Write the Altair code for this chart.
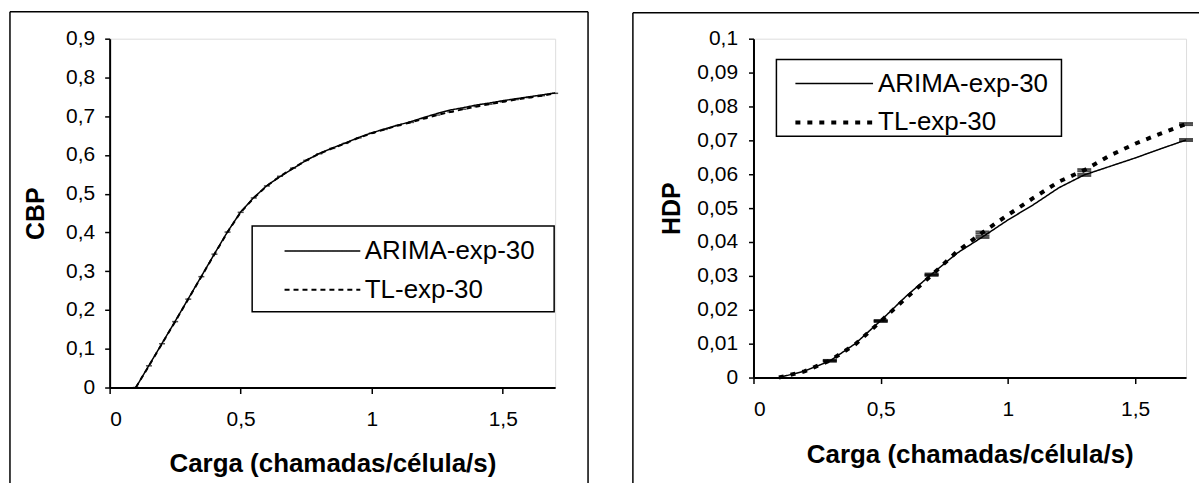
import altair as alt
import pandas as pd

FONT = "Liberation Sans"
SERIES = ["ARIMA-exp-30", "TL-exp-30"]

# ---- Left panel: CBP ----
cbp_load = [0.10, 0.15, 0.20, 0.25, 0.30, 0.35, 0.40, 0.45, 0.50, 0.55, 0.60,
            0.65, 0.70, 0.75, 0.80, 0.85, 0.90, 0.95, 1.00, 1.05, 1.10, 1.15,
            1.20, 1.25, 1.30, 1.35, 1.40, 1.45, 1.50, 1.55, 1.60, 1.65, 1.70]
cbp_arima = [0.000, 0.057, 0.114, 0.171, 0.229, 0.287, 0.345, 0.402, 0.453, 0.490, 0.521,
             0.544, 0.565, 0.586, 0.604, 0.618, 0.631, 0.645, 0.657, 0.667, 0.677, 0.686,
             0.697, 0.707, 0.716, 0.722, 0.729, 0.734, 0.740, 0.745, 0.750, 0.755, 0.760]
cbp_tl = [0.000, 0.056, 0.113, 0.170, 0.228, 0.286, 0.344, 0.401, 0.452, 0.489, 0.520,
          0.545, 0.566, 0.586, 0.603, 0.617, 0.630, 0.644, 0.656, 0.666, 0.676, 0.684,
          0.694, 0.703, 0.711, 0.718, 0.725, 0.731, 0.737, 0.743, 0.748, 0.753, 0.759]

# ---- Right panel: HDP ----
hdp_load = [0.1, 0.2, 0.3, 0.4, 0.5, 0.6, 0.7, 0.8, 0.9, 1.0, 1.1, 1.2, 1.3, 1.4, 1.5, 1.6, 1.7]
hdp_arima = [0.0000, 0.0019, 0.0049, 0.0100, 0.0168, 0.0240, 0.0305, 0.0367, 0.0415,
             0.0465, 0.0510, 0.0560, 0.0598, 0.0623, 0.0648, 0.0675, 0.0701]
hdp_tl = [0.0000, 0.0018, 0.0050, 0.0098, 0.0166, 0.0235, 0.0302, 0.0372, 0.0428,
          0.0480, 0.0530, 0.0578, 0.0612, 0.0655, 0.0690, 0.0720, 0.0748]

# error-bar caps (HDP)
err_load = [0.3, 0.5, 0.7, 0.9, 1.3, 1.7]
err_arima_ci = [0.0002, 0.0002, 0.0002, 0.0003, 0.0003, 0.0003]
err_tl_ci = [0.0002, 0.0002, 0.0002, 0.0003, 0.0003, 0.0003]

x_ticks = [0, 0.5, 1, 1.5]
cbp_ticks = [0, 0.1, 0.2, 0.3, 0.4, 0.5, 0.6, 0.7, 0.8, 0.9]
hdp_ticks = [0, 0.01, 0.02, 0.03, 0.04, 0.05, 0.06, 0.07, 0.08, 0.09, 0.1]

X_TITLE = "Carga (chamadas/célula/s)"
LABEL_EXPR = "replace(format(datum.value, '~g'), '.', ',')"


def long_df(load, a, t):
    return pd.DataFrame({
        "carga": list(load) + list(load),
        "valor": list(a) + list(t),
        "serie": [SERIES[0]] * len(a) + [SERIES[1]] * len(t),
    })


def caps_df(load, a, t):
    rows = []
    for name, vals, cis in ((SERIES[0], a, err_arima_ci), (SERIES[1], t, err_tl_ci)):
        for xv, ci in zip(err_load, cis):
            v = vals[load.index(xv)]
            rows.append({"carga": xv, "valor": v - ci, "serie": name})
            rows.append({"carga": xv, "valor": v + ci, "serie": name})
    return pd.DataFrame(rows)


cbp_df = long_df(cbp_load, cbp_arima, cbp_tl)
hdp_df = long_df(hdp_load, hdp_arima, hdp_tl)
hdp_caps = caps_df(hdp_load, hdp_arima, hdp_tl)
one = pd.DataFrame({"k": [0]})


def x_enc(title_y):
    return alt.X("carga:Q", scale=alt.Scale(domain=[0, 1.7], nice=False),
                 axis=alt.Axis(values=x_ticks, tickCount=len(x_ticks), title=X_TITLE,
                               labelExpr=LABEL_EXPR,
                               grid=False, domainColor="black", domainWidth=2,
                               tickColor="black", tickSize=6, tickWidth=1.5,
                               labelFont=FONT, labelFontSize=21, labelColor="black",
                               labelPadding=15, labelOverlap=False,
                               titleFont=FONT, titleFontSize=26,
                               titleFontWeight="bold", titleColor="black",
                               titleY=title_y, titleBaseline="alphabetic"))


def y_enc(domain, ticks, title, title_x, lpad):
    return alt.Y("valor:Q", scale=alt.Scale(domain=domain, nice=False),
                 axis=alt.Axis(values=ticks, tickCount=len(ticks), title=title,
                               labelExpr=LABEL_EXPR,
                               grid=False, domainColor="black", domainWidth=2,
                               tickColor="black", tickSize=5, tickWidth=1.5,
                               labelFont=FONT, labelFontSize=21, labelColor="black",
                               labelPadding=lpad, labelOverlap=False,
                               titleFont=FONT, titleFontSize=25,
                               titleFontWeight="bold", titleColor="black",
                               titleX=title_x, titleBaseline="alphabetic"))


def legend(lx, ly, off, loff, path, size, rowpad):
    return alt.Legend(title=None, orient="none", legendX=lx, legendY=ly, padding=4,
                      symbolType=path, symbolSize=size, symbolOffset=off,
                      labelOffset=loff, labelFont=FONT, labelFontSize=26,
                      labelColor="black", labelLimit=500, symbolStrokeColor="black",
                      rowPadding=rowpad)


def vrule(x, y, y2):
    return alt.Chart(one).mark_rule(color="black", strokeWidth=1.5).encode(
        x=alt.value(x), y=alt.value(y), y2=alt.value(y2))


def hrule(x, x2, y):
    return alt.Chart(one).mark_rule(color="black", strokeWidth=1.5).encode(
        x=alt.value(x), x2=alt.value(x2), y=alt.value(y))


def box(x, x2, y, y2):
    return alt.Chart(one).mark_rect(fill="white", stroke="black", strokeWidth=1.5).encode(
        x=alt.value(x), x2=alt.value(x2), y=alt.value(y), y2=alt.value(y2))


# ---- left chart ----
leg_l = legend(143, 188, 45.5, 21.5, "M-1.9,0H1.9", 1600, 5)
left_lines = alt.Chart(cbp_df).mark_line(color="black").encode(
    x=x_enc(84),
    y=y_enc([0, 0.9], cbp_ticks, "CBP", -66, 10),
    strokeDash=alt.StrokeDash("serie:N", scale=alt.Scale(domain=SERIES, range=[[1, 0], [5, 4]]), legend=leg_l),
    strokeWidth=alt.StrokeWidth("serie:N", scale=alt.Scale(domain=SERIES, range=[1.5, 2]), legend=leg_l),
)
left_marks = alt.Chart(cbp_df[cbp_df.serie == SERIES[1]]).mark_tick(
    orient="horizontal", size=6, thickness=1.5, color="black").encode(x="carga:Q", y="valor:Q")

left = alt.layer(
    vrule(-100, -27, 447), hrule(-100, 480, -27), vrule(480, -27, 447),
    box(143, 446, 188, 274),
    left_lines, left_marks,
).properties(width=447, height=350)

# ---- right chart ----
leg_r = legend(23, 21, 33, 23, "M-2.05,0H2.05", 1444, 5)
right_lines = alt.Chart(hdp_df).mark_line(color="black").encode(
    x=x_enc(85),
    y=y_enc([0, 0.1], hdp_ticks, "HDP", -74, 11),
    strokeDash=alt.StrokeDash("serie:N", scale=alt.Scale(domain=SERIES, range=[[1, 0], [5, 7]]), legend=leg_r),
    strokeWidth=alt.StrokeWidth("serie:N", scale=alt.Scale(domain=SERIES, range=[1.5, 4]), legend=leg_r),
)
right_caps = alt.Chart(hdp_caps).mark_tick(
    orient="horizontal", size=14, thickness=2, color="black").encode(x="carga:Q", y="valor:Q")

right = alt.layer(
    vrule(-121, -26, 447), hrule(-121, 447, -26),
    box(23, 309, 21, 98),
    right_lines, right_caps,
).properties(width=434, height=340)

chart = alt.hconcat(left, right, spacing=199, bounds="flush").resolve_scale(
    strokeDash="independent", strokeWidth="independent"
).resolve_legend(
    strokeDash="independent", strokeWidth="independent"
).properties(
    padding={"left": 8, "top": 9, "right": 0, "bottom": 0}
).configure_view(stroke="black", strokeWidth=2).configure(font=FONT)

chart.save("out.html", embed_options={"renderer": "svg", "actions": False})
